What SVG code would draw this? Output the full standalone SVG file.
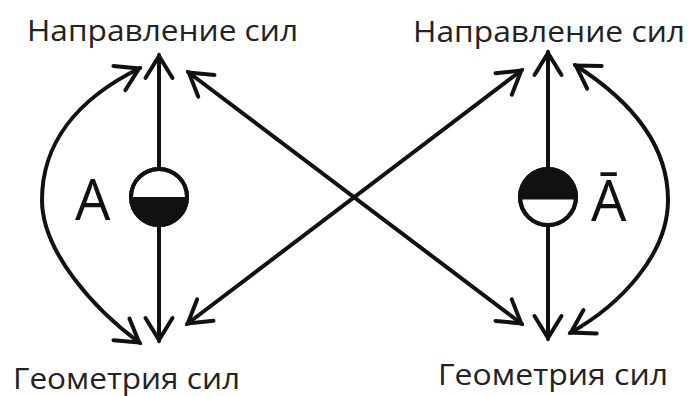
<svg xmlns="http://www.w3.org/2000/svg" width="690" height="396" viewBox="0 0 690 396">
  <style>
    .label { font-family: "Open Sans", "Noto Sans", "DejaVu Sans", sans-serif; font-size: 29px; fill: #222; }
    .sym { font-family: "Open Sans", "Noto Sans", "DejaVu Sans", sans-serif; font-size: 56px; fill: #111; }
    .edge { fill: none; stroke: #111; stroke-width: 4; stroke-linecap: round; }
    .ring { fill: #fff; stroke: #111; stroke-width: 4; }
    .half { fill: #111; }
  </style>
  <defs>
    <marker id="head" markerUnits="userSpaceOnUse" markerWidth="40" markerHeight="40" viewBox="-30 -20 40 40" refX="1" refY="0" orient="auto-start-reverse">
      <path d="M-22,-13.5 L0,0 L-22,13.5" fill="none" stroke="#111" stroke-width="4" stroke-linecap="round" stroke-linejoin="miter"/>
    </marker>
  </defs>

  <rect width="690" height="396" fill="#fff"/>

  <!-- connectors -->
  <g id="connectors">
    <!-- stems from each symbol to its labels -->
    <line class="edge" x1="159" y1="169" x2="159" y2="55" marker-end="url(#head)"/>
    <line class="edge" x1="159" y1="225" x2="159" y2="341" marker-end="url(#head)"/>
    <line class="edge" x1="548" y1="169" x2="548" y2="52" marker-end="url(#head)"/>
    <line class="edge" x1="548" y1="225" x2="548" y2="339" marker-end="url(#head)"/>
    <!-- outer loops -->
    <path class="edge" d="M140,68 C75,100 42,145 42,200 C42,252 95,310 140,343" marker-start="url(#head)" marker-end="url(#head)"/>
    <path class="edge" d="M575,65 C630,100 668,145 668,200 C668,255 620,305 570,333" marker-start="url(#head)" marker-end="url(#head)"/>
    <!-- diagonal cross -->
    <line class="edge" x1="188" y1="72" x2="522" y2="324" marker-start="url(#head)" marker-end="url(#head)"/>
    <line class="edge" x1="187" y1="324" x2="522" y2="70" marker-start="url(#head)" marker-end="url(#head)"/>
  </g>

  <!-- labels -->
  <g id="direction-left">
    <text class="label" x="27" y="41" textLength="271" lengthAdjust="spacingAndGlyphs">Направление сил</text>
  </g>
  <g id="direction-right">
    <text class="label" x="413" y="42" textLength="272" lengthAdjust="spacingAndGlyphs">Направление сил</text>
  </g>
  <g id="geometry-left">
    <text class="label" x="13" y="389" textLength="227" lengthAdjust="spacingAndGlyphs">Геометрия сил</text>
  </g>
  <g id="geometry-right">
    <text class="label" x="438" y="385" textLength="230" lengthAdjust="spacingAndGlyphs">Геометрия сил</text>
  </g>

  <!-- symbol A: lower half filled -->
  <g id="node-a">
    <circle class="ring" cx="159" cy="197" r="28"/>
    <path class="half" d="M131,197 A28,28 0 0 0 187,197 Z"/>
    <circle cx="159" cy="197" r="28" fill="none" stroke="#111" stroke-width="4"/>
    <text class="sym" x="75" y="220">A</text>
  </g>

  <!-- symbol Ā: upper half filled -->
  <g id="node-a-bar">
    <circle class="ring" cx="548" cy="197" r="28"/>
    <path class="half" d="M520,197 A28,28 0 0 1 576,197 Z"/>
    <line x1="520" y1="198" x2="576" y2="198" stroke="#111" stroke-width="3"/>
    <circle cx="548" cy="197" r="28" fill="none" stroke="#111" stroke-width="4"/>
    <text class="sym" x="591" y="221">Ā</text>
  </g>
</svg>
